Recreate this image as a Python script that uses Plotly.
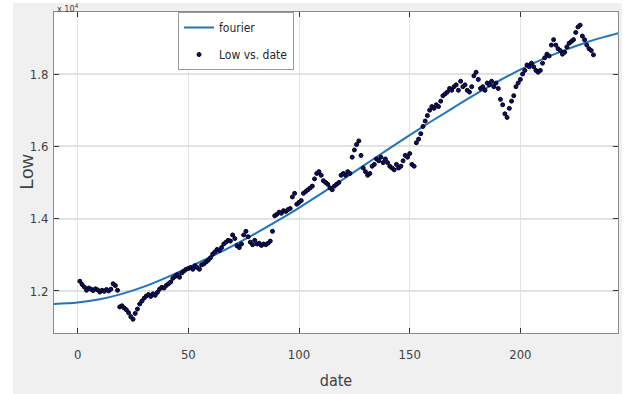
import plotly.graph_objects as go

# Daily "Low" values (index units) by trading-day number
LOW = [
    12270, 12180, 12110, 12020, 12080, 12050, 12010, 12060, 12030, 11970,
    12020, 11990, 12040, 12000, 12050, 12200, 12150, 12020, 11560, 11590,
    11530, 11480, 11400, 11290, 11220, 11380, 11500, 11640, 11720, 11800,
    11860, 11900, 11850, 11920, 11880, 11960, 12050, 12100, 12080, 12150,
    12200, 12250, 12350, 12400, 12450, 12380, 12500, 12550, 12600, 12620,
    12650, 12600, 12700, 12650, 12600, 12720, 12750, 12800, 12850, 12920,
    13020, 13080, 13150, 13120, 13200, 13300, 13350, 13400, 13380, 13550,
    13450, 13250, 13200, 13300, 13550, 13650, 13500, 13350, 13280, 13400,
    13300, 13320, 13260, 13300, 13280, 13320, 13380, 13650, 14080, 14120,
    14180, 14150, 14220, 14200, 14250, 14280, 14600, 14700, 14400, 14450,
    14500, 14700, 14750, 14800, 14850, 14900, 15100, 15250, 15300, 15200,
    15050, 15000, 14950, 14850, 14800, 14900, 14950, 15000, 15200, 15250,
    15200, 15300, 15250, 15700, 15900, 16050, 16150, 15750, 15400, 15300,
    15200, 15250, 15450, 15500, 15650, 15600, 15700, 15550, 15650, 15550,
    15450, 15400, 15350, 15500, 15400, 15450, 15600, 15750, 15700, 15800,
    15500, 15450, 16100, 16200, 16350, 16550, 16700, 16850, 17000, 17100,
    17050, 17150, 17100, 17250, 17400, 17450, 17500, 17600, 17550, 17650,
    17700, 17550, 17800, 17650, 17700, 17550, 17500, 17650, 17950, 18050,
    17850, 17600, 17650, 17550, 17750, 17700, 17800, 17650, 17750, 17600,
    17300, 17150, 16900, 16800, 17050, 17250, 17400, 17650, 17750, 17850,
    18000, 18100, 18250, 18200, 18300, 18200, 18100, 18050, 18100, 18300,
    18450, 18550, 18500, 18800, 18950, 18800, 18700, 18650, 18550, 18600,
    18750, 18850, 18900, 18950, 19150, 19300, 19350, 19050, 18950, 18800,
    18700, 18650, 18530,
]
DATE = list(range(1, len(LOW) + 1))

# Fourier fit curve, sampled along the date axis
FIT_X = [-10.7, 0, 10, 20, 30, 40, 50, 60, 70, 80, 90, 100, 110, 120, 130,
         140, 150, 160, 170, 180, 190, 200, 210, 220, 230, 240, 244.1]
FIT_Y = [11640, 11680, 11770, 11920, 12120, 12370, 12650, 12940, 13250,
         13580, 13930, 14300, 14690, 15090, 15500, 15910, 16310, 16700,
         17080, 17450, 17800, 18120, 18410, 18660, 18880, 19060, 19130]

Y_TICKS = [12000, 14000, 16000, 18000]
Y_TICK_TEXT = ["1.2", "1.4", "1.6", "1.8"]
X_TICKS = [0, 50, 100, 150, 200]

NARROW = "Liberation Sans Narrow, DejaVu Sans Condensed, Arial Narrow, sans-serif"
TXT = "#404040"

# plot-area geometry in pixels (used to place paper-referenced items)
L, R, T, B, W, H = 54, 8, 12, 61, 626, 394
PW, PH = W - L - R, H - T - B


def px_x(px):
    return (px - L) / PW


def px_y(py):
    return (H - B - py) / PH


fig = go.Figure()
fig.add_trace(go.Scatter(
    x=FIT_X, y=FIT_Y, mode="lines", name="fourier",
    line=dict(color="#1f74bd", width=2, shape="spline", smoothing=1.0),
    legendgroup="a",
))
fig.add_trace(go.Scatter(
    x=DATE, y=LOW, mode="markers", name="Low vs. date",
    marker=dict(size=4, color="#0c0c80", line=dict(color="#000000", width=1)),
    legendgroup="b",
))

axis_common = dict(
    showline=True, linecolor="#8a8a8a", linewidth=1, mirror="ticks",
    ticks="inside", ticklen=5, tickcolor="#333333", tickwidth=1,
    zeroline=False, showgrid=True,
    tickfont=dict(family=NARROW, size=13, color=TXT),
)

fig.update_layout(
    width=W, height=H,
    margin=dict(l=L, r=R, t=T, b=B),
    paper_bgcolor="#f0f0f0", plot_bgcolor="#ffffff",
    showlegend=True,
    legend=dict(
        x=px_x(178), y=1.0, xanchor="left", yanchor="top",
        bgcolor="#ffffff", bordercolor="#9a9a9a", borderwidth=1,
        font=dict(family=NARROW, size=12, color="#262626"),
        tracegroupgap=8, traceorder="grouped",
    ),
    xaxis=dict(
        axis_common, range=[-10.7, 244.1], tickvals=X_TICKS,
        gridcolor="#e4e4e4", gridwidth=1, ticklabelstandoff=9,
        title=dict(text="date", standoff=14,
                   font=dict(family=NARROW, size=16, color=TXT)),
    ),
    yaxis=dict(
        axis_common, range=[10838, 19715], tickvals=Y_TICKS,
        ticktext=Y_TICK_TEXT,
        gridcolor="#e2e2e2", gridwidth=1.5, ticklabelstandoff=2,
    ),
    shapes=[
        # white strips framing the gray figure area
        dict(type="rect", xref="paper", yref="paper",
             x0=px_x(0) - 0.01, x1=px_x(13), y0=-0.3, y1=1.1,
             fillcolor="#ffffff", line=dict(width=0), layer="below"),
        dict(type="rect", xref="paper", yref="paper",
             x0=-0.2, x1=1.1, y0=px_y(3), y1=1.2,
             fillcolor="#ffffff", line=dict(width=0), layer="below"),
        dict(type="rect", xref="paper", yref="paper",
             x0=px_x(622), x1=1.1, y0=-0.3, y1=1.2,
             fillcolor="#ffffff", line=dict(width=0), layer="below"),
    ],
    annotations=[
        # axis exponent above the y axis
        dict(text="x 10<sup>4</sup>", xref="paper", yref="paper",
             x=px_x(55), y=px_y(0), xanchor="left", yanchor="top",
             showarrow=False, font=dict(family=NARROW, size=9, color=TXT)),
        # y-axis title
        dict(text="Low", xref="paper", yref="paper",
             x=px_x(26), y=0.5, xanchor="center", yanchor="middle",
             textangle=-90, showarrow=False,
             font=dict(family="Liberation Sans, Arial, sans-serif",
                       size=19, color=TXT)),
    ],
)

fig.write_html("out.html")
